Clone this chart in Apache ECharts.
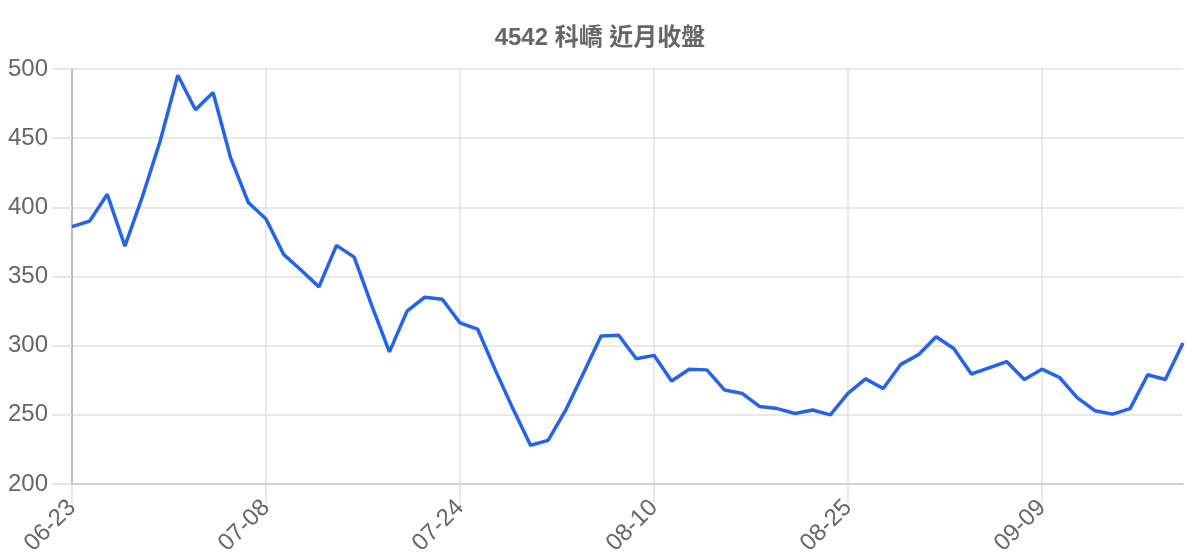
<!DOCTYPE html>
<html>
<head>
    <meta charset="utf-8">
    <title>4542 科嶠 近月收盤</title>
    <script src="https://cdn.jsdelivr.net/npm/echarts@6/dist/echarts.min.js"></script>
    <style>
        html, body { margin: 0; padding: 0; background: #fff; }
    </style>
</head>
<body>
<div id="chart" style="width: 1200px; height: 560px;"></div>
<script>
    // 日期（交易日）
    var dates = [
        '06-23', '06-24', '06-25', '06-26', '06-27', '06-30', '07-01', '07-02', '07-03', '07-04',
        '07-07', '07-08', '07-09', '07-10', '07-11', '07-14', '07-15', '07-16', '07-17', '07-18',
        '07-21', '07-22', '07-24', '07-25', '07-28', '07-29', '07-30', '07-31', '08-01', '08-04',
        '08-05', '08-06', '08-07', '08-10', '08-11', '08-12', '08-13', '08-14', '08-15', '08-18',
        '08-19', '08-20', '08-21', '08-22', '08-25', '08-26', '08-27', '08-28', '08-29', '09-01',
        '09-02', '09-03', '09-04', '09-05', '09-08', '09-09', '09-10', '09-11', '09-12', '09-15',
        '09-16', '09-17', '09-18', '09-19'
    ];

    // 收盤價
    var closes = [
        386, 390, 409.5, 372, 408, 448, 495.5, 470.5, 483, 435.5,
        403.5, 391.5, 366, 354.5, 342.5, 372.5, 364, 329, 295.5, 325,
        335, 333.5, 316.5, 312, 282.5, 254.5, 228, 231.5, 253.5, 280,
        307, 307.5, 290.5, 293, 274.5, 283, 282.5, 268, 265.5, 256,
        254.5, 251, 253.5, 250, 265.5, 276, 269, 286.5, 293.5, 306.5,
        298, 279.5, 284, 288.5, 275.5, 283, 277, 262.5, 253, 250.5,
        254.5, 279, 275.5, 302
    ];

    var myChart = echarts.init(document.getElementById('chart'));
    var font = '"Liberation Sans", "Noto Sans CJK TC", sans-serif';

    var option = {
        animation: false,
        textStyle: { fontFamily: font },
        title: {
            text: '4542 科嶠 近月收盤',
            left: 'center',
            top: 21,
            textStyle: { fontSize: 24, fontWeight: 'bold', color: '#666', fontFamily: font }
        },
        grid: { left: 72, right: 17, top: 69, bottom: 76 },
        xAxis: {
            type: 'category',
            data: dates,
            boundaryGap: false,
            axisLine: { lineStyle: { color: '#c8c8c8', width: 1.5 } },
            axisTick: { show: true, interval: 10, length: 19, lineStyle: { color: '#e0e0e0', width: 1.5 } },
            axisLabel: { interval: 10, rotate: 45, fontSize: 24, color: '#666', margin: 20 },
            splitLine: { show: true, interval: 10, lineStyle: { color: '#e0e0e0', width: 1.5 } }
        },
        yAxis: {
            type: 'value',
            min: 200,
            max: 500,
            interval: 50,
            axisLine: { show: true, lineStyle: { color: '#aaa', width: 1.5 } },
            axisTick: { show: true, length: 20, lineStyle: { color: '#e0e0e0', width: 1.5 } },
            axisLabel: { fontSize: 24, color: '#666', margin: 24 },
            splitLine: { lineStyle: { color: '#e0e0e0', width: 1.5 } }
        },
        series: [{
            type: 'line',
            data: closes,
            showSymbol: false,
            symbol: 'none',
            lineStyle: { color: '#2563eb', width: 3.5 }
        }]
    };

    myChart.setOption(option);
</script>
</body>
</html>
